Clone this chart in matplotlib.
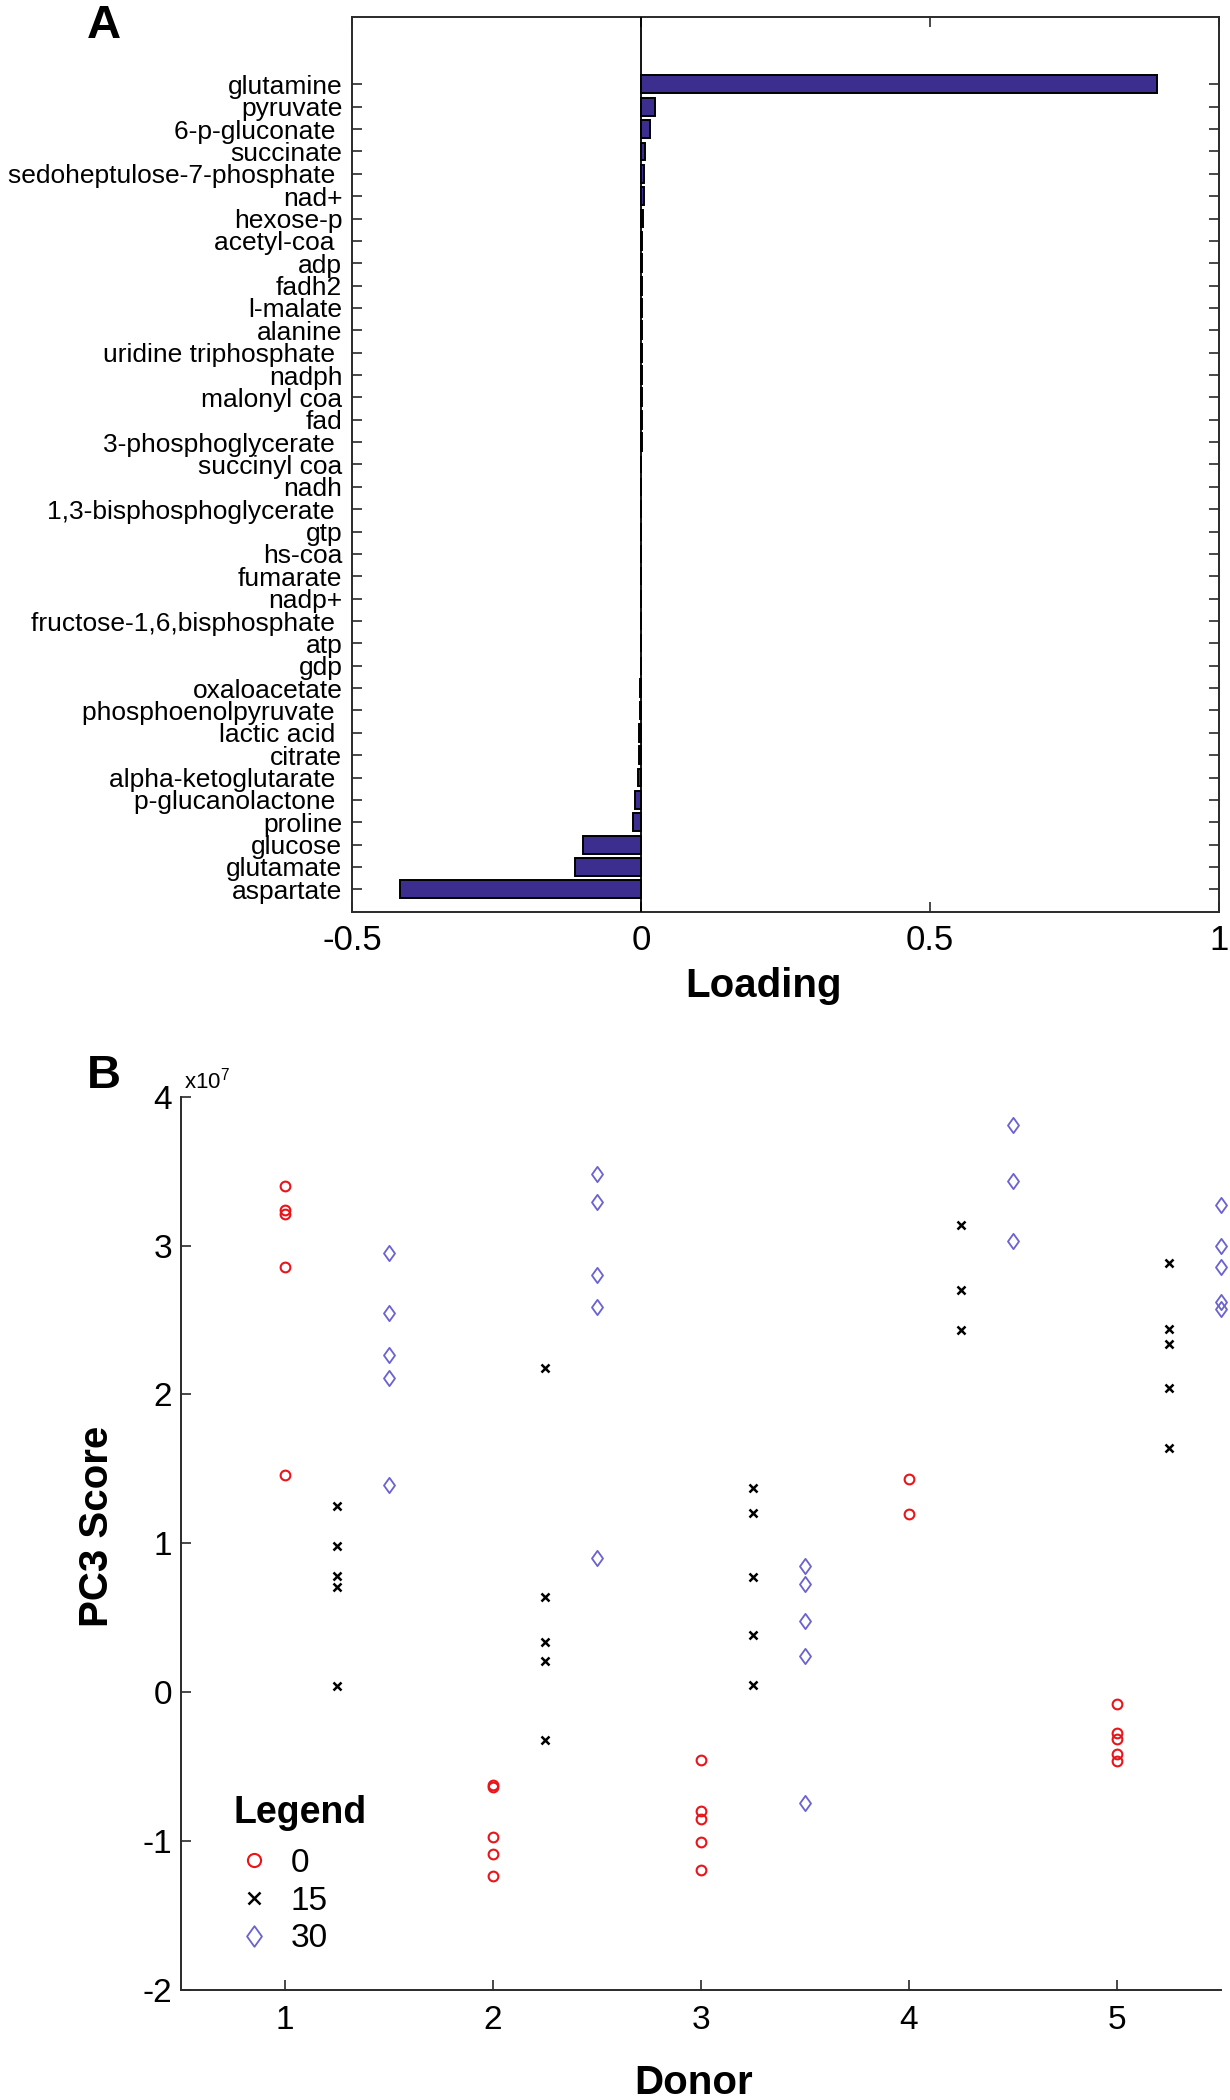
import matplotlib
matplotlib.use('Agg')
import matplotlib.pyplot as plt
from matplotlib.path import Path

plt.rcParams['font.family'] = ['Liberation Sans', 'DejaVu Sans']

# ---------------- Panel A data ----------------
metabolites = ['glutamine', 'pyruvate', '6-p-gluconate ', 'succinate', 'sedoheptulose-7-phosphate ',
               'nad+', 'hexose-p', 'acetyl-coa ', 'adp', 'fadh2', 'l-malate', 'alanine',
               'uridine triphosphate ', 'nadph', 'malonyl coa', 'fad', '3-phosphoglycerate ',
               'succinyl coa', 'nadh', '1,3-bisphosphoglycerate ', 'gtp', 'hs-coa', 'fumarate',
               'nadp+', 'fructose-1,6,bisphosphate ', 'atp', 'gdp', 'oxaloacetate',
               'phosphoenolpyruvate ', 'lactic acid ', 'citrate', 'alpha-ketoglutarate ',
               'p-glucanolactone ', 'proline', 'glucose', 'glutamate', 'aspartate']
loadings = [0.892, 0.024, 0.0147, 0.0075, 0.0048, 0.0045, 0.003, 0.0025, 0.0022, 0.002,
            0.0018, 0.0016, 0.0015, 0.0013, 0.0012, 0.001, 0.0009, 0.0008, 0.0007, 0.0006,
            0.0005, 0.0004, 0.0003, 0.0002, 0.0001, -0.0002, -0.0006, -0.001, -0.0017,
            -0.0029, -0.004, -0.0052, -0.0098, -0.0133, -0.101, -0.1146, -0.4176]
loading_ticks = [-0.5, 0, 0.5, 1]
loading_ticklabels = ['-0.5', '0', '0.5', '1']

# ---------------- Panel B data ----------------
donor_ticks = [1, 2, 3, 4, 5]
score_ticks = [-2e7, -1e7, 0, 1e7, 2e7, 3e7, 4e7]
score_ticklabels = ['-2', '-1', '0', '1', '2', '3', '4']
legend_labels = ['0', '15', '30']

t0_donor = [1, 1, 1, 1, 1, 2, 2, 2, 2, 2, 3, 3, 3, 3, 3, 4, 4, 5, 5, 5, 5, 5]
t0_score = [3.40e7, 3.24e7, 3.21e7, 2.855e7, 1.457e7,
            -0.62e7, -0.635e7, -0.971e7, -1.084e7, -1.233e7,
            -0.452e7, -0.799e7, -0.850e7, -1.007e7, -1.194e7,
            1.43e7, 1.20e7,
            -0.077e7, -0.275e7, -0.311e7, -0.414e7, -0.465e7]

t15_donor = [1, 1, 1, 1, 1, 2, 2, 2, 2, 2, 3, 3, 3, 3, 3, 4, 4, 4, 5, 5, 5, 5, 5]
t15_score = [1.25e7, 0.979e7, 0.783e7, 0.704e7, 0.039e7,
             2.18e7, 0.637e7, 0.339e7, 0.211e7, -0.324e7,
             1.37e7, 1.205e7, 0.776e7, 0.383e7, 0.046e7,
             3.14e7, 2.70e7, 2.43e7,
             2.88e7, 2.44e7, 2.34e7, 2.04e7, 1.64e7]

t30_donor = [1, 1, 1, 1, 1, 2, 2, 2, 2, 2, 3, 3, 3, 3, 3, 4, 4, 4, 5, 5, 5, 5, 5]
t30_score = [2.95e7, 2.545e7, 2.265e7, 2.108e7, 1.39e7,
             3.48e7, 3.29e7, 2.80e7, 2.59e7, 0.904e7,
             0.850e7, 0.727e7, 0.475e7, 0.244e7, -0.742e7,
             3.81e7, 3.43e7, 3.03e7,
             3.27e7, 3.00e7, 2.855e7, 2.62e7, 2.575e7]

# ---------------- Figure ----------------
fig = plt.figure(figsize=(12.3, 21), dpi=100)
spine_col = '#2a2a2a'

# Panel A
axA = fig.add_axes([0.2862, 0.56586, 0.7049, 0.4259])
n = len(metabolites)
pos = [n - i for i in range(n)]
axA.barh(pos, loadings, height=0.8, color='#3c2e8e', edgecolor='black', linewidth=1.4, zorder=3)
axA.axvline(0, color='black', linewidth=1.3, zorder=4)
axA.set_xlim(-0.5, 1)
axA.set_ylim(0, 40)
axA.set_yticks(pos)
axA.set_yticklabels(metabolites, fontsize=19)
axA.set_xticks(loading_ticks)
axA.set_xticklabels(loading_ticklabels, fontsize=25)
axA.tick_params(axis='both', direction='in', length=7, width=1.2, color=spine_col,
                top=True, right=True)
axA.tick_params(axis='y', pad=7)
axA.tick_params(axis='x', pad=9)
for s in axA.spines.values():
    s.set_color(spine_col)
    s.set_linewidth(1.4)
fig.text(764 / 1230, 1 - 997 / 2100, 'Loading', fontsize=29, fontweight='bold',
         ha='center', va='baseline')
fig.text(87 / 1230, 1 - 38 / 2100, 'A', fontsize=34, fontweight='bold',
         ha='left', va='baseline')

# Panel B
axB = fig.add_axes([0.1472, 0.05238, 0.8455, 0.42542])
dodge = {'0': 0.0, '15': 0.25, '30': 0.5}
diamond = Path([(0, 1), (0.72, 0), (0, -1), (-0.72, 0), (0, 1)],
               [Path.MOVETO, Path.LINETO, Path.LINETO, Path.LINETO, Path.CLOSEPOLY])
h0, = axB.plot([d + dodge['0'] for d in t0_donor], t0_score, linestyle='none', marker='o',
               markersize=7, markerfacecolor='none', markeredgecolor='#e8151b',
               markeredgewidth=1.5, clip_on=False, zorder=3)
h15, = axB.plot([d + dodge['15'] for d in t15_donor], t15_score, linestyle='none', marker='x',
                markersize=6, markeredgecolor='black', markeredgewidth=1.8,
                clip_on=False, zorder=3)
h30, = axB.plot([d + dodge['30'] for d in t30_donor], t30_score, linestyle='none', marker=diamond,
                markersize=11, markerfacecolor='none', markeredgecolor='#6a62cf',
                markeredgewidth=1.3, clip_on=False, zorder=3)
axB.set_xlim(0.5, 5.5)
axB.set_ylim(-2e7, 4e7)
axB.set_xticks(donor_ticks)
axB.set_xticklabels([str(d) for d in donor_ticks], fontsize=24)
axB.set_yticks(score_ticks)
axB.set_yticklabels(score_ticklabels, fontsize=24)
axB.tick_params(axis='both', direction='in', length=7, width=1.2, color=spine_col)
axB.tick_params(axis='y', pad=6.5)
axB.tick_params(axis='x', pad=11)
axB.spines['top'].set_visible(False)
axB.spines['right'].set_visible(False)
for k in ('left', 'bottom'):
    axB.spines[k].set_color(spine_col)
    axB.spines[k].set_linewidth(1.4)
axB.text(0.003, 1.004, r'$\mathregular{x10^{7}}$', transform=axB.transAxes,
         fontsize=16, ha='left', va='bottom')

leg = axB.legend([h0, h15, h30], legend_labels, title='Legend', loc='upper left',
                 bbox_to_anchor=(0.05, 0.218), frameon=False, fontsize=24,
                 title_fontproperties={'weight': 'bold', 'size': 27}, alignment='left',
                 handlelength=1.25, handletextpad=0.47, labelspacing=0.2,
                 borderpad=0, borderaxespad=0, markerscale=1.35)
leg._legend_box.sep = 12

fig.text(694 / 1230, 1 - 2094 / 2100, 'Donor', fontsize=29, fontweight='bold',
         ha='center', va='baseline')
fig.text(96.7 / 1230, 1 - 1526 / 2100, 'PC3 Score', fontsize=29, fontweight='bold',
         ha='center', va='center', rotation=90)
fig.text(87 / 1230, 1 - 1088 / 2100, 'B', fontsize=34, fontweight='bold',
         ha='left', va='baseline')

fig.savefig('out.png', dpi=100)
